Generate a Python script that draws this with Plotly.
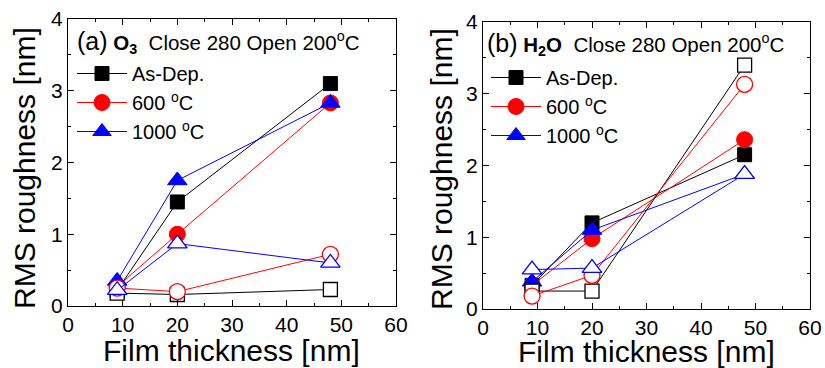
import plotly.graph_objects as go

# ---- data ----
thickness = [9, 20, 48]

# (a) O3
a_asdep = [0.22, 1.45, 3.10]
a_600 = [0.27, 1.00, 2.83]
a_1000 = [0.35, 1.75, 2.83]
a_asdep_open = [0.18, 0.16, 0.23]
a_600_open = [0.25, 0.20, 0.72]
a_1000_open = [0.22, 0.87, 0.60]

# (b) H2O
b_asdep = [0.33, 1.20, 2.15]
b_600 = [0.33, 0.98, 2.36]
b_1000 = [0.38, 1.10, 1.88]
b_asdep_open = [0.25, 0.25, 3.40]
b_600_open = [0.18, 0.47, 3.13]
b_1000_open = [0.55, 0.57, 1.88]

names = ["As-Dep.", "600 <sup>o</sup>C", "1000 <sup>o</sup>C"]
colors = ["#000000", "#ff0000", "#0000ff"]
symbols = ["square", "circle", "triangle-up"]
sizes = [14, 16, 17]

W, H = 825, 368
FONT = "Liberation Sans, Arial, sans-serif"

fig = go.Figure()

panels = [
    ("x", "y", "legend", [a_asdep, a_600, a_1000], [a_asdep_open, a_600_open, a_1000_open]),
    ("x2", "y2", "legend2", [b_asdep, b_600, b_1000], [b_asdep_open, b_600_open, b_1000_open]),
]

for xa, ya, leg, filled, opened in panels:
    for i in range(3):
        fig.add_trace(go.Scatter(
            x=thickness, y=filled[i], xaxis=xa, yaxis=ya, name=names[i],
            mode="lines+markers", legend=leg, legendgroup=leg + str(i),
            line=dict(color=colors[i], width=1),
            marker=dict(symbol=symbols[i], size=sizes[i], color=colors[i],
                        line=dict(color=colors[i], width=1)),
        ))
    for i in range(3):
        fig.add_trace(go.Scatter(
            x=thickness, y=opened[i], xaxis=xa, yaxis=ya, name=names[i],
            mode="lines+markers", showlegend=False,
            line=dict(color=colors[i], width=1),
            marker=dict(symbol=symbols[i], size=sizes[i], color="white",
                        line=dict(color=colors[i], width=1.3)),
        ))

def xaxis(domain, anchor):
    return dict(domain=domain, anchor=anchor, range=[0, 60], dtick=10, tick0=0, automargin=False,
                showline=True, linecolor="black", linewidth=1, mirror="ticks",
                ticks="inside", ticklen=6, tickcolor="black", showgrid=False, zeroline=False,
                minor=dict(ticks="inside", ticklen=3, dtick=5, tickcolor="black", showgrid=False),
                tickfont=dict(family=FONT, size=21, color="black"))

def yaxis(domain, anchor):
    return dict(domain=domain, anchor=anchor, range=[0, 4], dtick=1, tick0=0, automargin=False,
                showline=True, linecolor="black", linewidth=1, mirror="ticks",
                ticks="inside", ticklen=6, tickcolor="black", showgrid=False, zeroline=False,
                minor=dict(ticks="inside", ticklen=3, dtick=0.5, tickcolor="black", showgrid=False),
                tickfont=dict(family=FONT, size=21, color="black"))

legend_common = dict(font=dict(family=FONT, size=20, color="black"), bgcolor="rgba(0,0,0,0)",
                     yanchor="top", xanchor="left", tracegroupgap=0, itemsizing="trace",
                     itemwidth=50)

fig.update_layout(
    width=W, height=H, margin=dict(l=0, r=0, t=0, b=0, autoexpand=False),
    paper_bgcolor="white", plot_bgcolor="white",
    font=dict(family=FONT, color="black"),
    xaxis=xaxis([68 / W, 396 / W], "y"),
    yaxis=yaxis([1 - 306 / H, 1 - 19 / H], "x"),
    xaxis2=xaxis([483 / W, 810 / W], "y2"),
    yaxis2=yaxis([1 - 309 / H, 1 - 22 / H], "x2"),
    legend=dict(x=72 / W, y=1 - 54 / H, **legend_common),
    legend2=dict(x=486 / W, y=1 - 58 / H, **legend_common),
)

def ann(text, x, y, size, xanchor="center", yanchor="middle", angle=0):
    fig.add_annotation(text=text, x=x / W, y=1 - y / H, xref="paper", yref="paper",
                       xanchor=xanchor, yanchor=yanchor, showarrow=False, textangle=angle,
                       font=dict(family=FONT, size=size, color="black"))

ann('<span style="font-size:25px">(a)</span> <b>O<sub>3</sub></b>  Close 280 Open 200<sup>o</sup>C',
    75, 42, 20.5, xanchor="left")
ann('<span style="font-size:25px">(b)</span> <b>H<sub>2</sub>O</b>  Close 280 Open 200<sup>o</sup>C',
    485, 44, 20.5, xanchor="left")

ann("Film thickness [nm]", 232, 350, 30)
ann("Film thickness [nm]", 646, 351, 30)
ann("RMS roughness [nm]", 24, 168, 30, angle=-90)
ann("RMS roughness [nm]", 441, 169, 30, angle=-90)

fig.write_html("out.html")
